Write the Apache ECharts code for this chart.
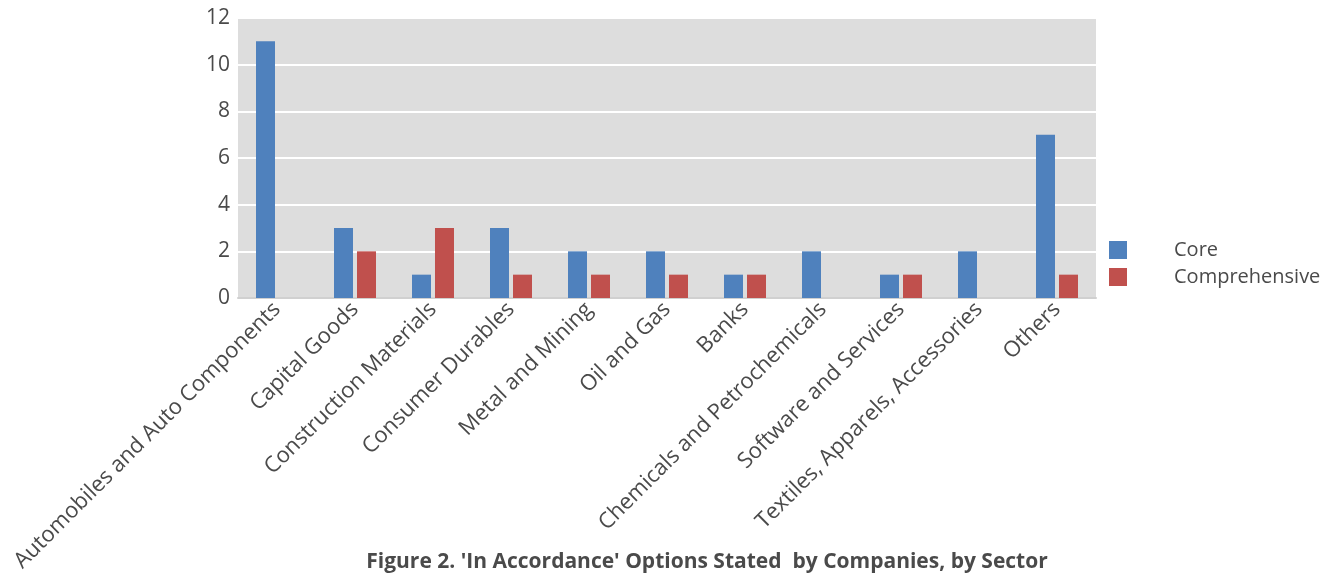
<!DOCTYPE html>
<html>
<head>
<meta charset="UTF-8">
<title>In Accordance options by sector</title>
<script src="https://cdn.jsdelivr.net/npm/echarts@6/dist/echarts.min.js"></script>
<style>
  html, body { margin: 0; padding: 0; background: #fff; }
</style>
</head>
<body>
<div id="main" style="width: 1333px;height:576px;"></div>
<script>
// 行业分类与两组数值
var sectors = ['Automobiles and Auto Components', 'Capital Goods', 'Construction Materials',
  'Consumer Durables', 'Metal and Mining', 'Oil and Gas', 'Banks',
  'Chemicals and Petrochemicals', 'Software and Services',
  'Textiles, Apparels, Accessories', 'Others'];
var coreVals = [11, 3, 1, 3, 2, 2, 1, 2, 1, 2, 7];
var compVals = [0, 2, 3, 1, 1, 1, 1, 0, 1, 0, 1];
var seriesNames = ['Core', 'Comprehensive'];

var font = 'Open Sans';
var txt = '#4a4a4a';

var myChart = echarts.init(document.getElementById('main'));
myChart.setOption({
  backgroundColor: '#fff',
  textStyle: { fontFamily: font },
  title: {
    text: "Figure 2. 'In Accordance' Options Stated  by Companies, by Sector",
    left: 702,
    textAlign: 'center',
    top: 547,
    textStyle: { fontFamily: font, fontSize: 21, fontWeight: 'bold', color: '#4a4a4a' }
  },
  legend: {
    orient: 'vertical',
    left: 1109,
    top: 240,
    padding: 0,
    itemWidth: 18,
    itemHeight: 18,
    itemGap: 7,
    icon: 'rect',
    data: seriesNames,
    textStyle: { fontFamily: font, fontSize: 20, color: txt, padding: [0, 0, 0, 42] }
  },
  grid: { left: 238, right: 237, top: 18, bottom: 278, containLabel: false,
    show: true, backgroundColor: '#dddddd', borderWidth: 0 },
  xAxis: {
    type: 'category',
    data: sectors,
    axisLine: { show: true, lineStyle: { color: '#d0d0d0', width: 2 } },
    axisTick: { show: false },
    axisLabel: { interval: 0, rotate: 45, fontSize: 22, color: txt, margin: 8, fontFamily: font }
  },
  yAxis: {
    type: 'value',
    min: 0, max: 12, interval: 2,
    axisLine: { show: false },
    axisTick: { show: false },
    splitLine: { lineStyle: { color: '#ffffff', width: 2 } },
    axisLabel: { fontSize: 21, color: txt, margin: 8, fontFamily: font }
  },
  series: [
    { name: seriesNames[0], type: 'bar', data: coreVals, barWidth: 19, barGap: '21%',
      itemStyle: { color: '#4f81bd' } },
    { name: seriesNames[1], type: 'bar', data: compVals, barWidth: 19,
      itemStyle: { color: '#c0504d' } }
  ]
});
</script>
</body>
</html>
